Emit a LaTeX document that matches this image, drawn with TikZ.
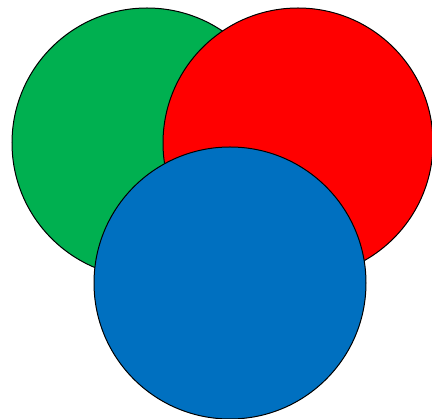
\documentclass[tikz,border=0pt]{standalone}
\usepackage{tikz}
\definecolor{ovgreen}{HTML}{00B050}
\definecolor{ovred}{HTML}{FF0000}
\definecolor{ovblue}{HTML}{0070C0}

\begin{document}
\begin{tikzpicture}[
    x=1pt, y=-1pt,
    disc/.style={circle, draw=black, line width=1pt, fill=#1,
                 inner sep=0pt, minimum size=270pt},
]
    \useasboundingbox (0, 0) rectangle (432, 419);

    % back to front
    \node[disc=ovgreen] (green) at (147, 143) {};
    \node[disc=ovred] (red) at (298, 143) {};
    \node[disc=ovblue, minimum size=272pt] (blue) at (230, 283) {};
\end{tikzpicture}
\end{document}
